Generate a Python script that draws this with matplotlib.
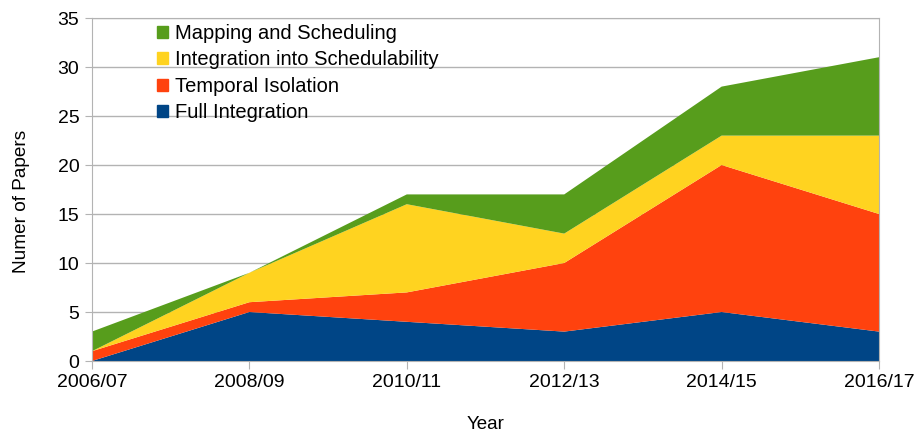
import matplotlib
matplotlib.use("Agg")
import matplotlib.pyplot as plt
from matplotlib.patches import Patch

plt.rcParams['font.family'] = ['Liberation Sans', 'DejaVu Sans']

years = ['2006/07', '2008/09', '2010/11', '2012/13', '2014/15', '2016/17']
full = [0, 5, 4, 3, 5, 3]
temporal = [1, 1, 3, 7, 15, 12]
integ = [0, 3, 9, 3, 3, 8]
mapping = [2, 0, 1, 4, 5, 8]

names = ['Full Integration', 'Temporal Isolation',
         'Integration into Schedulability', 'Mapping and Scheduling']
colors = ['#004586', '#ff420e', '#ffd320', '#579d1c']

fig = plt.figure(figsize=(9.15, 4.34), dpi=100)
ax = fig.add_axes([0.1005, 0.1682, 0.8602, 0.7903])

x = list(range(len(years)))
ax.stackplot(x, full, temporal, integ, mapping, colors=colors, lw=0, zorder=2)

ax.set_xlim(0, len(years) - 1)
ax.set_ylim(0, 35)
ax.set_yticks(range(0, 36, 5))
ax.set_xticks(x)
ax.set_xticklabels(years)
ax.yaxis.grid(True, color='#b3b3b3', lw=1, zorder=0)
ax.set_axisbelow(True)
for s in ax.spines.values():
    s.set_color('#b3b3b3')
ax.tick_params(axis='x', colors='#b3b3b3', length=6, labelcolor='black', labelsize=14, pad=3)
ax.tick_params(axis='y', colors='#b3b3b3', length=5, labelcolor='black', labelsize=14, pad=4)

ax.set_xlabel('Year', fontsize=13.5)
ax.xaxis.set_label_coords(0.5, -0.186, transform=ax.transAxes)
ax.xaxis.label.set_va('center')
ax.set_ylabel('Numer of Papers', fontsize=13.7)
ax.yaxis.set_label_coords(-0.089, 0.466, transform=ax.transAxes)
ax.yaxis.label.set_va('center')

handles = [Patch(color=c) for c in colors[::-1]]
ax.legend(handles, names[::-1], loc='upper left', bbox_to_anchor=(0.07, 1.012),
          frameon=False, fontsize=14.5, handlelength=0.55, handleheight=0.55,
          handletextpad=0.35, labelspacing=0.37, borderaxespad=0.1)

fig.savefig('out.png', dpi=100)
